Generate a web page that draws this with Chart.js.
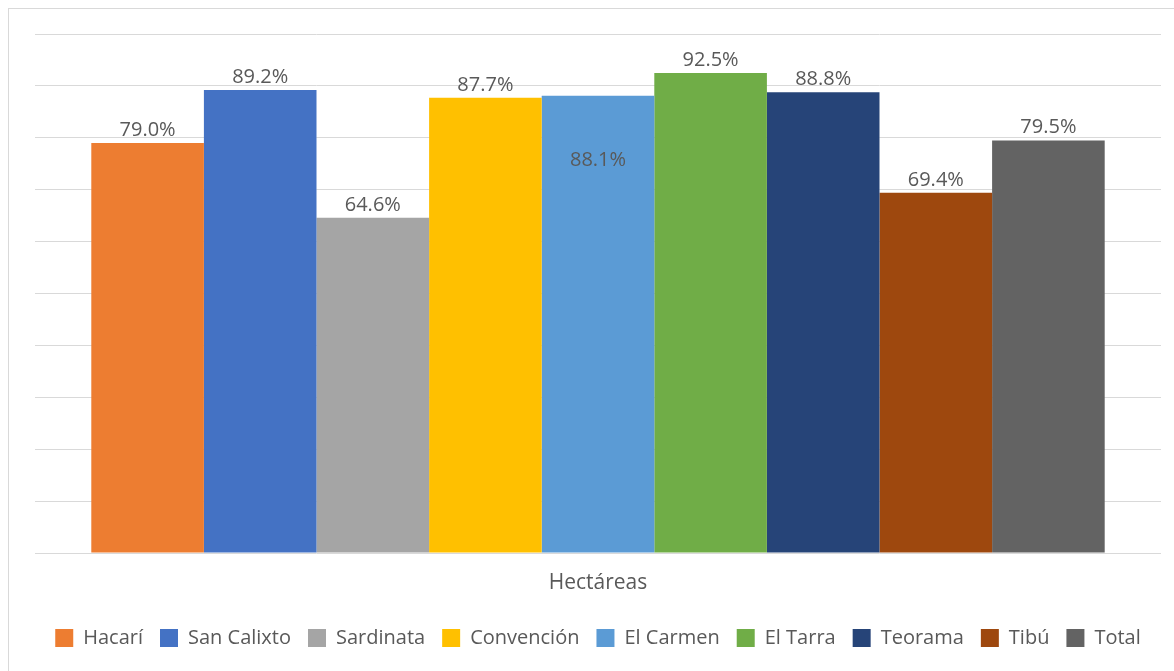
<!DOCTYPE html>
<html>
<head>
<meta charset="utf-8">
<script src="https://cdn.jsdelivr.net/npm/chart.js@4/dist/chart.umd.min.js"></script>
<style>
  html, body { margin: 0; padding: 0; background: #fff; }
  #wrap { width: 1174px; height: 671px; }
</style>
</head>
<body>
<div id="wrap"><canvas id="myChart" width="1174" height="671"></canvas></div>
<script>
// one category, one bar per municipality
var categories = ["Hectáreas"];
var municipios = ["Hacarí", "San Calixto", "Sardinata", "Convención", "El Carmen", "El Tarra", "Teorama", "Tibú", "Total"];
var valores = [79.0, 89.2, 64.6, 87.7, 88.1, 92.5, 88.8, 69.4, 79.5];
var colores = ["#ED7D31", "#4472C4", "#A5A5A5", "#FFC000", "#5B9BD5", "#70AD47", "#264478", "#9E480E", "#636363"];
// Excel put the El Carmen label inside its bar
var etiquetaDentro = [false, false, false, false, true, false, false, false, false];

var FONT = "'Open Sans', 'Noto Sans', sans-serif";
var GRIS_TEXTO = "#595959";

// value labels above bars
var etiquetas = {
  id: "etiquetas",
  afterDatasetsDraw: function (chart) {
    var ctx = chart.ctx;
    ctx.save();
    ctx.font = "20px " + FONT;
    ctx.fillStyle = GRIS_TEXTO;
    ctx.textAlign = "center";
    ctx.textBaseline = "alphabetic";
    chart.data.datasets.forEach(function (ds, i) {
      var meta = chart.getDatasetMeta(i);
      meta.data.forEach(function (bar, j) {
        var txt = ds.data[j].toFixed(1) + "%";
        var y = etiquetaDentro[i] ? bar.y + 70 : bar.y - 7;
        ctx.fillText(txt, bar.x, y);
      });
    });
    ctx.restore();
  }
};

// light frame round the chart, like the Excel chart area border
var marco = {
  id: "marco",
  beforeDraw: function (chart) {
    var ctx = chart.ctx;
    ctx.save();
    ctx.strokeStyle = "#d9d9d9";
    ctx.lineWidth = 1;
    ctx.strokeRect(8.5, 8.5, chart.width + 10, chart.height + 10);
    ctx.restore();
  }
};

var ctx = document.getElementById("myChart").getContext("2d");
var chart = new Chart(ctx, {
  type: "bar",
  data: {
    labels: categories,
    datasets: municipios.map(function (m, i) {
      return {
        label: m,
        data: [valores[i]],
        backgroundColor: colores[i],
        borderWidth: 0,
        barPercentage: 1,
        categoryPercentage: 0.9
      };
    })
  },
  options: {
    responsive: false,
    animation: false,
    layout: { padding: { top: 34, left: 35, right: 13, bottom: 13 } },
    plugins: {
      tooltip: { enabled: false },
      legend: {
        position: "bottom",
        labels: {
          boxWidth: 18,
          boxHeight: 18,
          padding: 17,
          color: GRIS_TEXTO,
          font: { family: FONT, size: 20 }
        }
      }
    },
    scales: {
      x: {
        grid: { display: false, drawTicks: false },
        border: { display: false },
        ticks: { color: GRIS_TEXTO, padding: 17, font: { family: FONT, size: 21 } },
        afterFit: function (s) { s.height = 58; }
      },
      y: {
        min: 0,
        max: 100,
        ticks: { display: false, stepSize: 10 },
        grid: { color: "#d9d9d9", lineWidth: 1, drawTicks: false },
        border: { display: false },
        afterFit: function (s) { s.width = 0; }
      }
    }
  },
  plugins: [marco, etiquetas]
});
</script>
</body>
</html>
